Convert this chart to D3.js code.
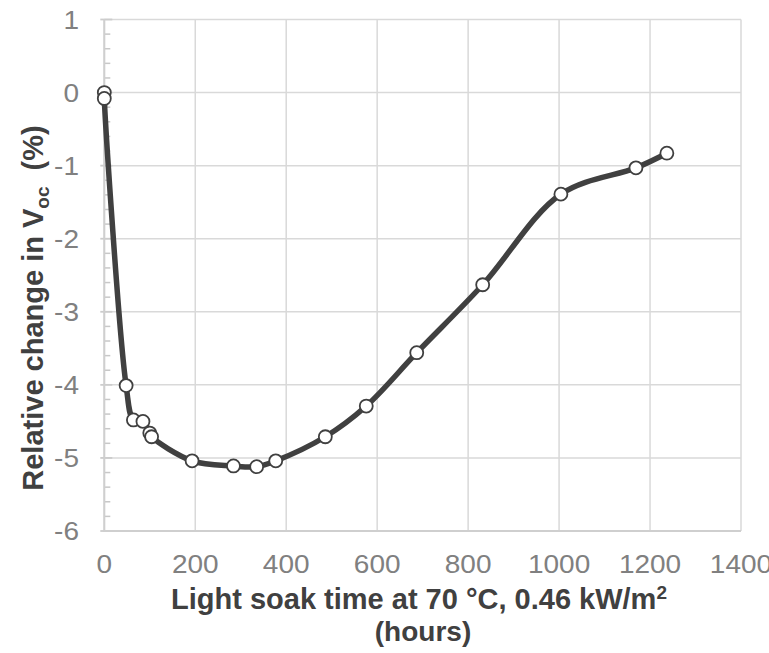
<!DOCTYPE html>
<html><head><meta charset="utf-8">
<script src="https://cdn.jsdelivr.net/npm/d3@7"></script>
<style>body{margin:0;background:#fff}svg{display:block}</style>
</head><body>
<script>
const hours = [0, 0, 48, 64, 85, 100, 104, 193, 284, 335, 377, 486, 576, 687, 832, 1004, 1169, 1237];
const vocChange = [0, -0.08, -4.01, -4.48, -4.50, -4.66, -4.71, -5.04, -5.11, -5.12, -5.04, -4.71, -4.29, -3.56, -2.63, -1.39, -1.03, -0.83];
const xTicks = [0, 200, 400, 600, 800, 1000, 1200, 1400];
const yTicks = [1, 0, -1, -2, -3, -4, -5, -6];

const W = 769, H = 653;
const svg = d3.select("body").append("svg").attr("width", W).attr("height", H);
const x = d3.scaleLinear().domain([0, 1400]).range([104.3, 741]);
const y = d3.scaleLinear().domain([-6, 1]).range([531, 19.5]);
const font = "Liberation Sans, Arial, sans-serif";
const tickScale = 1.12;

// gridlines
svg.append("g").selectAll("line").data(yTicks).join("line")
  .attr("x1", x(0)).attr("x2", x(1400)).attr("y1", d => y(d)).attr("y2", d => y(d))
  .attr("stroke", "#d9d9d9").attr("stroke-width", 1.5);
svg.append("g").selectAll("line").data(xTicks).join("line")
  .attr("y1", y(-6)).attr("y2", y(1)).attr("x1", d => x(d)).attr("x2", d => x(d))
  .attr("stroke", "#d9d9d9").attr("stroke-width", 1.5);

// minor ticks on y
const minor = d3.range(-6, 1.0001, 0.2).filter(v => Math.abs(v - Math.round(v)) > 1e-6);
svg.append("g").selectAll("line").data(minor).join("line")
  .attr("x1", x(0)).attr("x2", x(0) + 6).attr("y1", d => y(d)).attr("y2", d => y(d))
  .attr("stroke", "#c8c8c8").attr("stroke-width", 1.5);
svg.append("g").selectAll("line").data(yTicks).join("line")
  .attr("x1", x(0) - 4).attr("x2", x(0) + 8).attr("y1", d => y(d)).attr("y2", d => y(d))
  .attr("stroke", "#cccccc").attr("stroke-width", 1.8);

// axis lines
svg.append("line").attr("x1", x(0)).attr("x2", x(0)).attr("y1", y(1)).attr("y2", y(-6))
  .attr("stroke", "#cfcfcf").attr("stroke-width", 2);
svg.append("line").attr("x1", x(0) - 1).attr("x2", x(1400)).attr("y1", y(-6)).attr("y2", y(-6))
  .attr("stroke", "#cfcfcf").attr("stroke-width", 2);

// tick labels
svg.append("g").selectAll("text").data(yTicks).join("text")
  .attr("transform", d => `translate(79,${y(d)}) scale(${tickScale},1)`)
  .attr("dy", "0.36em").attr("text-anchor", "end")
  .attr("font-family", font).attr("font-size", 25).attr("fill", "#808080").text(d => d);
svg.append("g").selectAll("text").data(xTicks).join("text")
  .attr("transform", d => `translate(${x(d)},573) scale(${tickScale},1)`)
  .attr("text-anchor", "middle")
  .attr("font-family", font).attr("font-size", 25).attr("fill", "#808080").text(d => d);

// axis titles
const xt = svg.append("text").attr("x", 419).attr("y", 609).attr("text-anchor", "middle")
  .attr("font-family", font).attr("font-size", 29).attr("font-weight", "bold").attr("fill", "#404040");
xt.append("tspan").text("Light soak time at 70 °C, 0.46 kW/m");
xt.append("tspan").attr("font-size", 19).attr("dy", -10).text("2");
svg.append("text").attr("x", 423).attr("y", 641).attr("text-anchor", "middle")
  .attr("font-family", font).attr("font-size", 28).attr("font-weight", "bold").attr("fill", "#404040")
  .text("(hours)");
const yt = svg.append("text").attr("transform", "translate(43,308) rotate(-90)").attr("text-anchor", "middle")
  .attr("font-family", font).attr("font-size", 29).attr("font-weight", "bold").attr("fill", "#404040");
yt.append("tspan").text("Relative change in V");
yt.append("tspan").attr("font-size", 19).attr("dy", 6).text("oc");
yt.append("tspan").attr("dy", -6).text("\u00a0\u00a0(%)");

// data
const pts = hours.map((h, i) => [h, vocChange[i]]);
const line = d3.line().x(d => x(d[0])).y(d => y(d[1])).curve(d3.curveCatmullRom.alpha(0.5));
svg.append("path").datum(pts).attr("d", line).attr("fill", "none")
  .attr("stroke", "#404040").attr("stroke-width", 5.5).attr("stroke-linejoin", "round");
svg.append("g").selectAll("circle").data(pts).join("circle")
  .attr("cx", d => x(d[0])).attr("cy", d => y(d[1])).attr("r", 6.5)
  .attr("fill", "#fff").attr("stroke", "#404040").attr("stroke-width", 1.8);
</script>
</body></html>
